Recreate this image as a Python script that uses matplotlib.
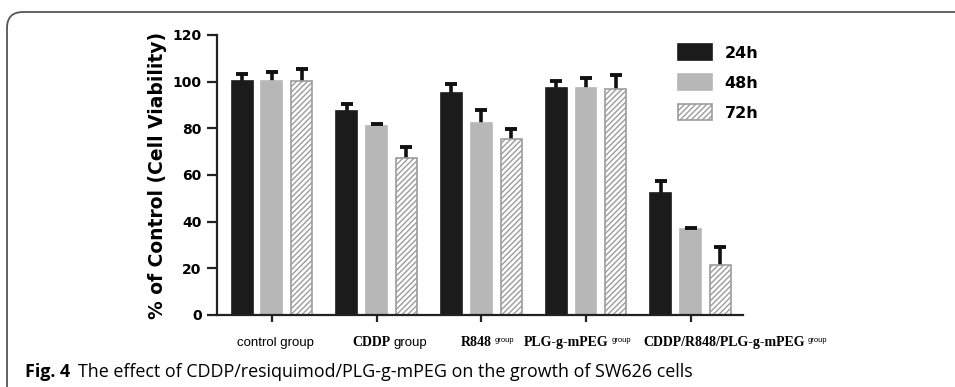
import numpy as np
import matplotlib
matplotlib.use('Agg')
import matplotlib.pyplot as plt
from matplotlib.patches import FancyBboxPatch, Patch

# data
groups   = ['control group', 'CDDP', 'R848', 'PLG-g-mPEG', 'CDDP/R848/PLG-g-mPEG']
suffixes = ['', 'group', 'group', 'group', 'group']
series   = ['24h', '48h', '72h']
mean_24  = [100.4, 87.6, 95.3, 97.4, 52.1]
err_24   = [2.7, 2.8, 3.7, 3.0, 5.5]
mean_48  = [100.4, 81.0, 82.1, 97.4, 37.0]
err_48   = [3.9, 0.9, 5.8, 4.3, 0.4]
mean_72  = [100.1, 67.1, 75.4, 97.0, 21.4]
err_72   = [5.2, 5.0, 4.2, 5.9, 7.9]
yticks   = [0, 20, 40, 60, 80, 100, 120]
# horizontal nudge of each category label (pixels), as in the original
label_shift = [3, 13, 6, -9, 44]

W, H = 955, 387
plt.rcParams['hatch.color'] = '#a0a0a0'
plt.rcParams['hatch.linewidth'] = 1.0
fig = plt.figure(figsize=(W / 100, H / 100), dpi=100)
ax = fig.add_axes([217 / W, 1 - 315 / H, (743 - 217) / W, (315 - 35) / H])

x = np.arange(len(groups))
bw, off = 0.2, 0.285
styles = [
    dict(color='#1b1b1b', edgecolor='#1b1b1b'),
    dict(color='#b7b7b7', edgecolor='#b7b7b7'),
    dict(color='white', edgecolor='#9c9c9c', hatch='//////'),
]
for k, (m, e) in enumerate([(mean_24, err_24), (mean_48, err_48), (mean_72, err_72)]):
    m, e = np.array(m), np.array(e)
    xs = x + (k - 1) * off
    ax.bar(xs, m, bw, linewidth=1.2, **styles[k], zorder=2)
    # upper error only, with a single cap on top
    ax.errorbar(xs, m, yerr=[np.zeros(len(e)), e], fmt='none', ecolor='#111111',
                elinewidth=2.6, capsize=0, zorder=1)
    ax.plot(xs, m + e, ls='none', marker='_', markersize=9, mew=2.8, color='#111111', zorder=3)

ax.set_xlim(-0.525, 4.5)
ax.set_ylim(0, 120)
ax.set_yticks(yticks)
ax.set_yticklabels([str(v) for v in yticks], fontfamily='DejaVu Sans',
                   fontweight='bold', fontsize=10)
ax.set_xticks(x)
ax.set_xticklabels([])
for s in ['top', 'right']:
    ax.spines[s].set_visible(False)
for s in ['left', 'bottom']:
    ax.spines[s].set_linewidth(1.6)
    ax.spines[s].set_color('#222222')
ax.tick_params(axis='y', length=7, width=1.6, color='#222222', pad=4)
ax.tick_params(axis='x', length=5, width=1.6, color='#222222')

ax.set_ylabel('% of Control (Cell Viability)', fontfamily='DejaVu Sans',
              fontweight='bold', fontsize=13.5, labelpad=4)

# legend
handles = [Patch(facecolor=s['color'], edgecolor=s['edgecolor'], hatch=s.get('hatch'),
                 linewidth=1.2) for s in styles]
ax.legend(handles, series, loc='upper left', bbox_to_anchor=(0.862, 0.995),
          frameon=False, borderpad=0, prop=dict(family='DejaVu Sans', weight='bold', size=11.5),
          handlelength=2.1, handleheight=1.15, labelspacing=0.85, handletextpad=0.8)

# category labels: serif bold name + small sans "group"
sans_n = ['Liberation Sans Narrow', 'Liberation Sans']
labels = []
for i, (g, sfx) in enumerate(zip(groups, suffixes)):
    if sfx == '':
        t1 = ax.annotate(g, xy=(i, 0), xycoords=('data', 'axes fraction'),
                         xytext=(0, -20), textcoords='offset points', ha='left', va='center',
                         fontfamily=sans_n, fontsize=9.5)
        labels.append((t1, None))
        continue
    t1 = ax.annotate(g, xy=(i, 0), xycoords=('data', 'axes fraction'),
                     xytext=(0, -20), textcoords='offset points', ha='left', va='center',
                     fontfamily='Liberation Serif', fontweight='bold', fontsize=10)
    if i == 1:
        t2 = ax.annotate(sfx, xy=(1, 0.5), xycoords=t1, xytext=(2, 0), textcoords='offset points',
                         ha='left', va='center', fontfamily=sans_n, fontsize=9.5)
    else:
        t2 = ax.annotate(sfx, xy=(1, 0.95), xycoords=t1, xytext=(2, 0), textcoords='offset points',
                         ha='left', va='top', fontfamily=sans_n, fontsize=5.5)
    labels.append((t1, t2))

fig.canvas.draw()
r = fig.canvas.get_renderer()
for (t1, t2), dx in zip(labels, label_shift):
    w = t1.get_window_extent(r).width
    if t2 is not None:
        w += t2.get_window_extent(r).width + 2
    t1.set_position(((dx - w / 2) * 72 / fig.dpi, -20))

# caption
cap1 = fig.text(25 / W, 1 - 372 / H, 'Fig. 4', fontfamily='Open Sans', fontweight='bold',
                fontsize=12.9, va='center', ha='left')
ax.annotate('The effect of CDDP/resiquimod/PLG-g-mPEG on the growth of SW626 cells',
            xy=(1, 0.5), xycoords=cap1, xytext=(6, 0), textcoords='offset points',
            va='center', ha='left', fontfamily='Open Sans', fontsize=12.9, annotation_clip=False)

# frame
frame = FancyBboxPatch((0.07, -0.6), 12, 3.75 + 0.6, boxstyle='round,pad=0,rounding_size=0.16',
                       transform=fig.dpi_scale_trans, facecolor='none', edgecolor='#555555',
                       linewidth=1.3, clip_on=False)
fig.add_artist(frame)

fig.savefig('out.png', dpi=100)
